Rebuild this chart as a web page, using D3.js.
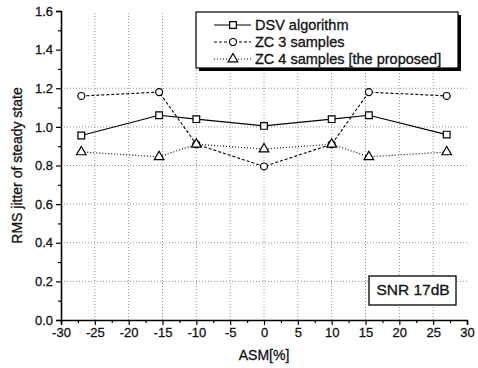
<!DOCTYPE html>
<html>
<head>
<meta charset="utf-8">
<script src="https://cdn.jsdelivr.net/npm/d3@7"></script>
<style>
  body { margin: 0; background: #fff; }
  svg text { font-family: "Liberation Sans", Arial, sans-serif; fill: #111; stroke: #111; stroke-width: 0.3px; }
</style>
</head>
<body>
<svg id="chart" width="478" height="368"></svg>
<script>
// data
const asm = [-27, -15.5, -10, 0, 10, 15.5, 27];
const dsv = [0.955, 1.06, 1.04, 1.005, 1.04, 1.06, 0.96];
const zc3 = [1.16, 1.18, 0.91, 0.795, 0.91, 1.18, 1.16];
const zc4 = [0.87, 0.845, 0.91, 0.885, 0.91, 0.845, 0.87];
const xTicks = [-30, -25, -20, -15, -10, -5, 0, 5, 10, 15, 20, 25, 30];
const yTicks = [0, 0.2, 0.4, 0.6, 0.8, 1.0, 1.2, 1.4, 1.6];
const seriesNames = ["DSV algorithm", "ZC 3 samples", "ZC 4 samples [the proposed]"];

const svg = d3.select("#chart");
const x = d3.scaleLinear().domain([-30, 30]).range([61, 467]);
const y = d3.scaleLinear().domain([0, 1.6]).range([320, 11]);

// grid
svg.append("g").selectAll("line")
  .data(xTicks.slice(1, -1))
  .enter().append("line")
  .attr("x1", d => x(d)).attr("x2", d => x(d))
  .attr("y1", y(0)).attr("y2", y(1.6))
  .attr("stroke", "#777").attr("stroke-width", 0.8)
  .attr("stroke-dasharray", "1,2");
svg.append("g").selectAll("line")
  .data([0.2, 0.4, 0.6, 0.8, 1.0, 1.2])
  .enter().append("line")
  .attr("x1", x(-30)).attr("x2", x(30))
  .attr("y1", d => y(d)).attr("y2", d => y(d))
  .attr("stroke", "#777").attr("stroke-width", 0.8)
  .attr("stroke-dasharray", "1,2");

// axes
svg.append("g")
  .attr("transform", "translate(0," + y(0) + ")")
  .call(d3.axisBottom(x).tickValues(xTicks).tickSize(5).tickPadding(3)
    .tickFormat(d => String(d)));
svg.append("g")
  .attr("transform", "translate(0," + y(0) + ")")
  .call(d3.axisBottom(x).tickValues(d3.range(-27.5, 30, 5)).tickSize(3).tickFormat(""))
  .select(".domain").remove();

svg.append("g")
  .attr("transform", "translate(" + x(-30) + ",0)")
  .call(d3.axisLeft(y).tickValues(yTicks).tickSize(5).tickPadding(3)
    .tickFormat(d3.format(".1f")));
svg.append("g")
  .attr("transform", "translate(" + x(-30) + ",0)")
  .call(d3.axisLeft(y).tickValues(d3.range(0.1, 1.6, 0.2)).tickSize(3).tickFormat(""))
  .select(".domain").remove();

svg.selectAll(".domain").attr("stroke", "#000").attr("stroke-width", 1.6);
svg.selectAll(".tick line").attr("stroke", "#000").attr("stroke-width", 1.2);
svg.selectAll(".tick text").style("font-size", "13px").style("font-family", "'Liberation Sans', Arial, sans-serif");

svg.append("text")
  .attr("x", x(0)).attr("y", 360)
  .attr("text-anchor", "middle")
  .style("font-size", "14px")
  .text("ASM[%]");
svg.append("text")
  .attr("transform", "translate(22," + y(0.8) + ") rotate(-90)")
  .attr("text-anchor", "middle")
  .style("font-size", "14px")
  .text("RMS jitter of steady state");

// series
const series = [
  { name: seriesNames[0], values: dsv, dash: null, marker: "square" },
  { name: seriesNames[1], values: zc3, dash: "3,2", marker: "circle" },
  { name: seriesNames[2], values: zc4, dash: "1,2", marker: "triangle" }
];
const line = d3.line().x(d => x(d[0])).y(d => y(d[1]));
const symbolOf = {
  square: d3.symbol().type(d3.symbolSquare).size(45),
  circle: d3.symbol().type(d3.symbolCircle).size(38),
  triangle: d3.symbol().type(d3.symbolTriangle).size(40)
};

series.forEach(s => {
  const pts = asm.map((a, i) => [a, s.values[i]]);
  svg.append("path")
    .attr("d", line(pts))
    .attr("fill", "none").attr("stroke", "#000").attr("stroke-width", 1.1)
    .attr("stroke-dasharray", s.dash);
  svg.append("g").selectAll("path")
    .data(pts)
    .enter().append("path")
    .attr("d", symbolOf[s.marker])
    .attr("transform", d => "translate(" + x(d[0]) + "," + y(d[1]) + ")")
    .attr("fill", "#fff").attr("stroke", "#000").attr("stroke-width", 1.2);
});

// legend
const lg = svg.append("g");
lg.append("rect").attr("x", 199).attr("y", 15).attr("width", 262).attr("height", 56).attr("fill", "#000");
lg.append("rect").attr("x", 196).attr("y", 12).attr("width", 262).attr("height", 56)
  .attr("fill", "#fff").attr("stroke", "#000").attr("stroke-width", 1.2);
series.forEach((s, i) => {
  const ly = 25 + i * 17;
  lg.append("line").attr("x1", 214).attr("x2", 251).attr("y1", ly).attr("y2", ly)
    .attr("stroke", "#000").attr("stroke-width", 1.1).attr("stroke-dasharray", s.dash);
  lg.append("path").attr("d", symbolOf[s.marker])
    .attr("transform", "translate(233," + ly + ")")
    .attr("fill", "#fff").attr("stroke", "#000").attr("stroke-width", 1.2);
  lg.append("text").attr("x", 255).attr("y", ly + 5)
    .style("font-size", "14.5px").text(s.name);
});

// annotation box
const ab = svg.append("g");
ab.append("rect").attr("x", 369).attr("y", 276).attr("width", 87).attr("height", 29)
  .attr("fill", "#fff").attr("stroke", "#000").attr("stroke-width", 1.3);
ab.append("text").attr("x", 413).attr("y", 294.5).attr("text-anchor", "middle")
  .style("font-size", "15.5px").text("SNR 17dB");
</script>
</body>
</html>
